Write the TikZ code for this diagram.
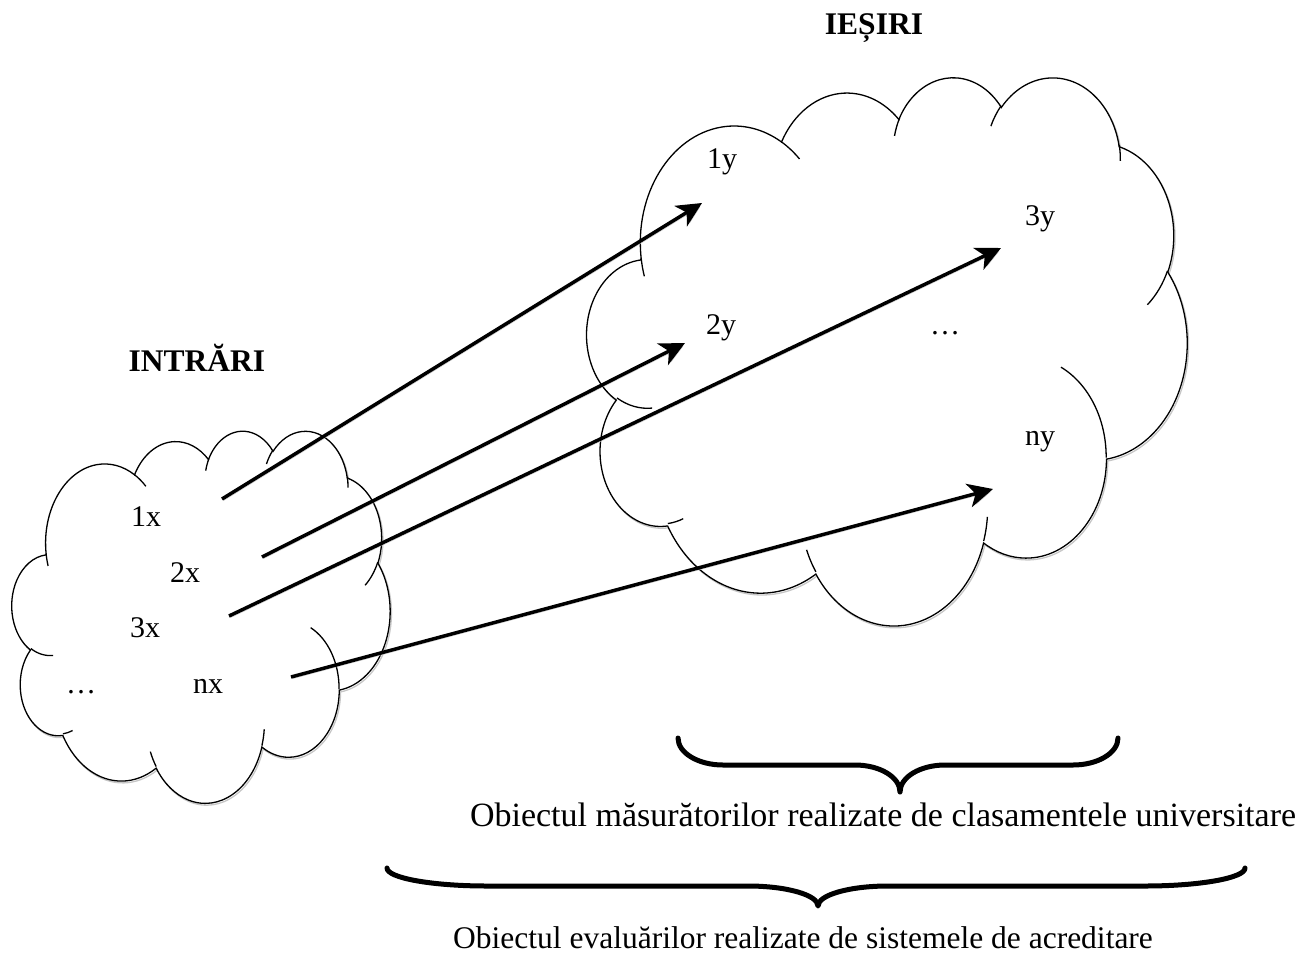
\documentclass[tikz,border=0pt]{standalone}
\usepackage{fontspec}
\setmainfont{Liberation Serif}
\usetikzlibrary{arrows.meta}
\tikzset{
  shadowed/.style={preaction={draw=black!22, transform canvas={shift={(1.3pt,-1.8pt)}}}},
  conn/.style={line width=3.5pt, shadowed, -{Stealth[length=25pt,width=24pt,inset=7pt]}},
  bracestyle/.style={line width=5pt, line cap=round, line join=round, shadowed},
  lbl/.style={font=\fontsize{30}{36}\selectfont, inner sep=0pt, anchor=base},
  ttl/.style={font=\fontsize{31.5}{38}\selectfont\bfseries, inner sep=0pt, anchor=base},
  cloudmain/.style={draw=black, line width=1.3pt, fill=white},
  cloudshadow/.style={draw=black!22, line width=1.3pt},
}
\newcommand\wordcloud[5]{%
\begin{scope}[shift={(#1,#2)},xscale=#3/43.2,yscale=#4/43.2]
\path[#5] (3.900,14.370)
 \foreach \w/\h/\s/\d [evaluate=\s as \ts using {atan2(\w*sin(\s),\h*cos(\s))},
   evaluate=\d as \te using {atan2(\w*sin(\s),\h*cos(\s))+\d+mod(atan2(\w*sin(\s+\d),\h*cos(\s+\d))-atan2(\w*sin(\s),\h*cos(\s))-(\d)+900,360)-180}]
 in {6.753/9.190/-190.48748/123.78053,
     5.333/7.267/-144.10238/89.94523,
     4.365/5.945/-145.80792/99.72302,
     4.857/6.595/-130.98607/117.24173,
     5.333/7.273/-78.70888/109.02692,
     6.775/9.220/-46.26725/130.269,
     5.785/7.867/0.62502/114.03333,
     6.752/9.215/22.4516/115.17255,
     7.720/10.543/66.24263/75.71102,
     4.360/5.918/-274.94208/146.73557,
     4.345/5.945/-246.8285/152.51885}
 { arc[start angle=\ts,end angle=\te,x radius=\w,y radius=\h] } -- cycle;
\foreach \px/\py/\w/\h/\s/\d [evaluate=\s as \ts using {atan2(\w*sin(\s),\h*cos(\s))},
   evaluate=\d as \te using {atan2(\w*sin(\s),\h*cos(\s))+\d+mod(atan2(\w*sin(\s+\d),\h*cos(\s+\d))-atan2(\w*sin(\s),\h*cos(\s))-(\d)+900,360)-180}]
 in {4.693/26.177/4.345/5.945/86.742/26.4295,
     6.928/34.899/4.360/5.918/73.61047/11.44747,
     16.478/39.090/6.752/9.215/137.62415/14.0811,
     28.827/34.751/6.752/9.215/6.45327/15.99835,
     34.129/22.954/5.785/7.867/-70.29235/70.91737,
     41.798/15.354/5.333/7.273/30.31803/27.7515,
     38.324/5.426/4.857/6.595/-13.74433/14.8589,
     29.078/3.952/4.857/6.595/-149.18145/18.19537,
     22.141/4.720/4.365/5.945/-163.49427/17.68635,
     14.000/5.192/6.753/9.190/-66.70695/12.31935,
     4.127/15.789/6.753/9.190/157.65435/11.85817}
 { \path[#5,fill=none] (\px,\py) arc[start angle=\ts,end angle=\te,x radius=\w,y radius=\h]; }
\end{scope}}
\newcommand\wbrace[8]{%
\draw[bracestyle] (#1,#4) .. controls (#1,{#4+0.552*(#5-#4)}) and ({#1+0.448*#7},#5) .. ({#1+#7},#5)
 -- ({#3-#8},#5) .. controls ({#3-0.448*#8},#5) and (#3,{#6-0.552*(#6-#5)}) .. (#3,#6)
 .. controls (#3,{#6-0.552*(#6-#5)}) and ({#3+0.448*#8},#5) .. ({#3+#8},#5)
 -- ({#2-#7},#5) .. controls ({#2-0.448*#7},#5) and (#2,{#4+0.552*(#5-#4)}) .. (#2,#4);}
\begin{document}
\begin{tikzpicture}[x=1pt,y=-1pt]
\useasboundingbox (0,0) rectangle (1306,956);
% clouds
\wordcloud{13.3}{431.8}{378}{372}{cloudshadow}
\wordcloud{12}{430}{378}{372}{cloudmain}
\wordcloud{588.3}{77.8}{600}{548}{cloudshadow}
\wordcloud{587}{76}{600}{548}{cloudmain}
% titles
\node[ttl] (tin) at (197,371) {INTRĂRI};
\node[ttl] (tout) at (874,34) {IEȘIRI};
% input labels
\node[lbl] (x1) at (146,526) {1x};
\node[lbl] (x2) at (185,582) {2x};
\node[lbl] (x3) at (145,637) {3x};
\node[lbl] (xd) at (81,693) {…};
\node[lbl] (xn) at (208,693) {nx};
% output labels
\node[lbl] (y1) at (722,168) {1y};
\node[lbl] (y2) at (721,334) {2y};
\node[lbl] (y3) at (1040,225) {3y};
\node[lbl] (yd) at (945,334) {…};
\node[lbl] (yn) at (1040,445) {ny};
% arrow end points
\coordinate (s1) at (222,499);
\coordinate (e1) at (702,203);
\coordinate (s2) at (262,557);
\coordinate (e2) at (685,343);
\coordinate (s3) at (229,616);
\coordinate (e3) at (1001,248);
\coordinate (s4) at (291,677);
\coordinate (e4) at (993,489);
\draw[conn] (s1) -- (e1);
\draw[conn] (s2) -- (e2);
\draw[conn] (s3) -- (e3);
\draw[conn] (s4) -- (e4);
% braces
\wbrace{678}{1118}{900}{738}{765}{792}{45}{45}
\wbrace{387}{1245}{818}{868}{886}{906}{100}{70}
\node[lbl, font=\fontsize{34}{40}\selectfont] (m1) at (883,826) {Obiectul măsurătorilor realizate de clasamentele universitare};
\node[lbl, font=\fontsize{31.5}{38}\selectfont] (m2) at (803,948) {Obiectul evaluărilor realizate de sistemele de acreditare};
\end{tikzpicture}
\end{document}
